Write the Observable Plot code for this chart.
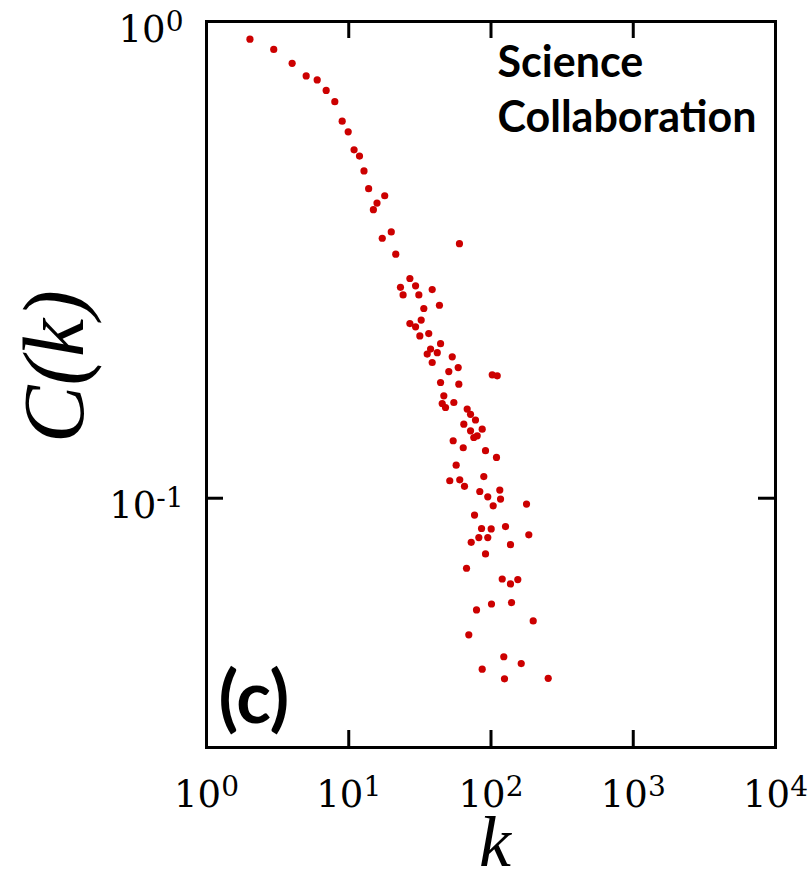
<!DOCTYPE html>
<html>
<head>
<meta charset="utf-8">
<script src="https://cdn.jsdelivr.net/npm/d3@7"></script>
<script src="https://cdn.jsdelivr.net/npm/@observablehq/plot@0.6"></script>
<style>
  html, body { margin: 0; padding: 0; background: #fff; }
</style>
</head>
<body>
<div id="chart"></div>
<script>
// Degree k and clustering C(k), Science Collaboration network
const kValues = [2.02, 2.97, 4.00, 5.02, 6.00, 6.94, 7.98, 8.99, 9.91, 10.9,
  11.9, 12.8, 13.8, 17.9, 15.8, 14.9, 19.9, 17.2, 60.0, 21.4,
  26.9, 23.1, 24.1, 29.5, 31.1, 38.6, 33.7, 43.4, 26.9, 32.3,
  29.5, 31.6, 36.5, 44.2, 37.6, 41.9, 38.6, 35.6, 53.4, 50.5,
  58.8, 102, 110.6, 44.2, 59.4, 46.6, 47.9, 54.8, 45.4, 68.0,
  71.8, 77.8, 64.4, 71.8, 86.7, 80.0, 75.7, 54.2, 63.8, 91.5,
  109.3, 56.9, 51.3, 60.3, 65.1, 89.0, 83.4, 94.9, 115.3, 116.7,
  103.6, 177.7, 76.6, 85.8, 100.3, 94.9, 82.1, 72.6, 126.5, 184.4,
  137.1, 91.5, 67.3, 119.9, 137.1, 154.3, 79.1, 100.8, 139.4, 198.0,
  69.8, 123.0, 163.1, 86.7, 124.4, 252.5];
const cValues = [0.918, 0.874, 0.817, 0.769, 0.754, 0.717, 0.679, 0.618, 0.587, 0.538,
  0.522, 0.486, 0.446, 0.431, 0.416, 0.403, 0.362, 0.351, 0.342, 0.325,
  0.289, 0.277, 0.267, 0.279, 0.267, 0.274, 0.250, 0.254, 0.2325, 0.2364,
  0.2288, 0.219, 0.2215, 0.211, 0.2055, 0.202, 0.1926, 0.2006, 0.198, 0.1844,
  0.188, 0.1815, 0.1806, 0.1749, 0.1735, 0.164, 0.155, 0.1588, 0.158, 0.1538,
  0.150, 0.1459, 0.143, 0.1385, 0.1396, 0.1352, 0.1341, 0.132, 0.1276, 0.1258,
  0.1218, 0.1173, 0.1088, 0.1093, 0.1059, 0.111, 0.1033, 0.1007, 0.104, 0.0996,
  0.0964, 0.0972, 0.0922, 0.0864, 0.0862, 0.0827, 0.0827, 0.0808, 0.0872, 0.0838,
  0.0799, 0.0764, 0.0713, 0.0677, 0.0661, 0.0675, 0.0583, 0.060, 0.0604, 0.0553,
  0.0517, 0.0465, 0.0450, 0.0438, 0.0418, 0.0419];

const xTickValues = [10, 100, 1000];
const xTickLabels = [1, 10, 100, 1000, 10000];
const yTickValues = [0.1];
const yTickLabels = [1, 0.1];
const xDomain = [1, 10000];
const yDomain = [0.03, 1];
const legendLines = ["Science", "Collaboration"];
const panelLabel = "(c)";
const xTitle = "k";
const yTitle = "C(k)";

const points = kValues.map((k, i) => ({k, C: cValues[i]}));

const W = 811, H = 874;
const mL = 206, mR = 36, mT = 21, mB = 127;
const innerW = W - mL - mR, innerH = H - mT - mB;
const tickLen = 17;
const serif = "'DejaVu Serif', serif";
const tickFmt = d => "10^" + Math.round(Math.log10(d));

const chart = Plot.plot({
  width: W, height: H,
  marginLeft: mL, marginRight: mR, marginTop: mT, marginBottom: mB,
  x: {type: "log", domain: xDomain, axis: null},
  y: {type: "log", domain: yDomain, axis: null},
  style: {background: "#fff", color: "#000", overflow: "visible"},
  marks: [
    Plot.dot(points, {x: "k", y: "C", r: 3.6, fill: "#cc0000", stroke: "none"}),
    Plot.ruleX(xTickValues, {x: d => d, insetTop: innerH - tickLen, stroke: "#000", strokeWidth: 3}),
    Plot.ruleX(xTickValues, {x: d => d, insetBottom: innerH - tickLen, stroke: "#000", strokeWidth: 3}),
    Plot.ruleY(yTickValues, {y: d => d, insetRight: innerW - tickLen, stroke: "#000", strokeWidth: 3}),
    Plot.ruleY(yTickValues, {y: d => d, insetLeft: innerW - tickLen, stroke: "#000", strokeWidth: 3}),
    Plot.frame({stroke: "#000", strokeWidth: 3}),
    Plot.text(xTickLabels, {x: d => d, frameAnchor: "bottom", dy: 59, lineAnchor: "bottom",
      textAnchor: "middle", text: tickFmt, fontSize: 37, fontFamily: serif, fill: "#000"}),
    Plot.text(yTickLabels, {y: d => d, frameAnchor: "left", dx: -23, dy: 20, lineAnchor: "bottom",
      textAnchor: "end", text: tickFmt, fontSize: 37, fontFamily: serif, fill: "#000"}),
    Plot.text([xTitle], {frameAnchor: "bottom", dx: 4, dy: 118, lineAnchor: "bottom",
      textAnchor: "middle", fontSize: 72, fontStyle: "italic", fontFamily: "'Liberation Serif', serif", fill: "#000"}),
    Plot.text([yTitle], {frameAnchor: "left", dx: -124, dy: -18, rotate: -90, lineAnchor: "bottom",
      textAnchor: "middle", fontSize: 86, fontStyle: "italic", fontFamily: "'Liberation Serif', serif", fill: "#000"}),
    Plot.text([legendLines.join("\n")], {frameAnchor: "top-left", dx: 291, dy: 16, lineAnchor: "top",
      lineHeight: 55 / 43, textAnchor: "start", fontSize: 43, fontWeight: "bold", fontFamily: "Lato, sans-serif", fill: "#000"}),
    Plot.text([panelLabel], {frameAnchor: "bottom-left", dx: 12, dy: -25, lineAnchor: "bottom",
      textAnchor: "start", fontSize: 72, fontWeight: "bold", fontFamily: "Lato, sans-serif", fill: "#000"})
  ]
});

// turn "10^e" labels into a base with a superscript exponent
const ns = "http://www.w3.org/2000/svg";
chart.querySelectorAll("text").forEach(el => {
  const m = /^10\^(-?\d+)$/.exec(el.textContent);
  if (!m) return;
  el.textContent = "10";
  const sup = document.createElementNS(ns, "tspan");
  sup.setAttribute("dy", "-11");
  sup.setAttribute("font-size", "28");
  sup.textContent = m[1];
  el.appendChild(sup);
});

document.getElementById("chart").appendChild(chart);
</script>
</body>
</html>
